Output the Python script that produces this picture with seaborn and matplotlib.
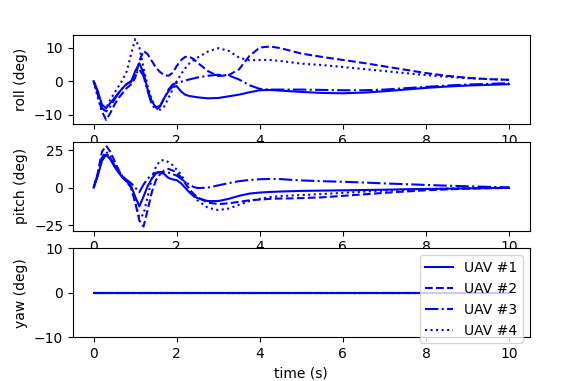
import numpy as np
import seaborn as sns
import matplotlib
matplotlib.use('Agg')
import matplotlib.pyplot as plt

# time grid (s)
t = [0.0, 0.1, 0.2, 0.3, 0.4, 0.5, 0.6, 0.7, 0.8, 0.9, 1.0, 1.1, 1.2, 1.3, 1.4,
     1.5, 1.6, 1.7, 1.8, 1.9, 2.0, 2.1, 2.2, 2.3, 2.4, 2.5, 2.75, 3.0, 3.25, 3.5,
     3.75, 4.0, 4.25, 4.5, 4.75, 5.0, 5.5, 6.0, 6.5, 7.0, 7.5, 8.0, 8.5, 9.0, 9.5, 10.0]

# roll (deg)
roll_uav1 = [0, -3, -7, -8, -6.5, -5, -3.5, -2, -0.8, -0.3, 3, 5.3, 2.5, -2.5, -6,
             -7.8, -7.3, -5, -3, -1.6, -1.5, -3, -4, -4.4, -4.6, -4.8, -5.1, -5, -4.5, -4,
             -3.3, -2.7, -2.6, -2.8, -3, -3.2, -3.5, -3.6, -3.4, -3, -2.5, -2, -1.6, -1.3, -1.1, -0.9]
roll_uav2 = [0, -4, -9, -11.5, -9.5, -7, -5, -3.5, -2, -1, 1, 6, 9, 8, 6,
             4, 2.7, 1.8, 1.6, 2.5, 4.5, 6.2, 7.2, 7.3, 6.6, 5.5, 3, 1.5, 1.8, 3.5,
             7.5, 10, 10.3, 9.8, 9, 8.2, 7.2, 6.3, 5.4, 4.4, 3.4, 2.4, 1.6, 1, 0.6, 0.4]
roll_uav3 = [0, -3.5, -8, -9, -7.5, -5.5, -3.5, -2, -0.8, 0, 2, 3.5, 1.5, -3, -7,
             -8.5, -7.5, -5, -2.5, -1, -0.5, -0.2, 0.2, 0.5, 0.8, 1.1, 1.6, 1.9, 1.7, 0.5,
             -1.2, -2.3, -2.5, -2.5, -2.5, -2.5, -2.6, -2.7, -2.7, -2.5, -2.1, -1.7, -1.3, -1, -0.8, -0.6]
roll_uav4 = [0, -5, -9, -8, -5.5, -3.5, -1.5, 0.5, 3, 8, 12.5, 10, 4, -1.5, -5.5,
             -7.8, -8.5, -7.5, -5, -2.5, 0, 2, 3.8, 5.2, 6.2, 7, 8.8, 9.8, 9, 7,
             6.2, 6.3, 6.3, 6, 5.6, 5.2, 4.8, 4.2, 3.6, 3, 2.4, 1.8, 1.3, 0.9, 0.6, 0.4]

# pitch (deg)
pitch_uav1 = [0, 8, 18, 22, 19, 14, 10, 6.5, 4, 1, -6, -12.5, -6, 1, 6,
              9.5, 10.5, 9, 6.5, 5.5, 5, 3, 0, -3, -5.5, -7, -9, -9, -7.5, -5.5,
              -4, -3.3, -2.9, -2.6, -2.4, -2.2, -2, -1.8, -1.6, -1.4, -1.1, -0.9, -0.7, -0.5, -0.3, -0.2]
pitch_uav2 = [0, 10, 24, 28, 24, 18, 12, 7, 4, 0, -10, -22, -26, -15, -3,
              5, 9, 11.5, 12.5, 11.5, 10, 7, 3, -1, -4, -6.5, -10, -11, -10.5, -9.5,
              -8.5, -8, -7.5, -7.3, -7.2, -7, -6.5, -5.5, -4.5, -3.5, -2.6, -1.8, -1.2, -0.7, -0.4, -0.2]
pitch_uav3 = [0, 9, 20, 23, 20, 15, 11, 7.5, 5, 3, 0, -3, 2, 6, 8.5,
              10, 10.5, 10, 10, 9, 8, 6, 4, 2, 0.5, -0.3, 0, 1.5, 3, 4.3,
              5.1, 5.6, 5.8, 5.7, 5.2, 4.8, 4.3, 3.9, 3.4, 2.8, 2.3, 1.8, 1.3, 0.9, 0.5, 0.2]
pitch_uav4 = [0, 9, 20, 24, 21, 16, 11, 7, 4, 0, -10, -20, -18, -6, 6,
              14, 18, 18.5, 17, 15, 12, 9, 4, -1, -5, -8.5, -13.5, -15, -14, -11.5,
              -9, -7.5, -6.3, -5.7, -5.3, -5, -4.3, -3.5, -2.7, -2, -1.5, -1, -0.7, -0.4, -0.2, -0.1]

# yaw (deg)
yaw_all = [0.0] * len(t)

labels = ['UAV #1', 'UAV #2', 'UAV #3', 'UAV #4']
styles = ['-', '--', '-.', ':']

roll = [roll_uav1, roll_uav2, roll_uav3, roll_uav4]
pitch = [pitch_uav1, pitch_uav2, pitch_uav3, pitch_uav4]

fig, axes = plt.subplots(3, 1, figsize=(5.74, 3.81), dpi=100)
plt.subplots_adjust(left=0.127, right=0.923, top=0.908, bottom=0.115, hspace=0.2)

for i in range(4):
    sns.lineplot(x=t, y=roll[i], ax=axes[0], color='blue', linestyle=styles[i], linewidth=1.5)
    sns.lineplot(x=t, y=pitch[i], ax=axes[1], color='blue', linestyle=styles[i], linewidth=1.5)
    sns.lineplot(x=t, y=yaw_all, ax=axes[2], color='blue', linestyle=styles[i], linewidth=1.5, label=labels[i])

axes[0].set_ylabel('roll (deg)')
axes[1].set_ylabel('pitch (deg)')
axes[2].set_ylabel('yaw (deg)')
axes[2].set_xlabel('time (s)')
axes[2].set_ylim(-10, 10)
axes[0].set_yticks([-10, 0, 10])
axes[1].set_yticks([-25, 0, 25])
axes[2].set_yticks([-10, 0, 10])
for ax in axes:
    ax.set_xticks([0, 2, 4, 6, 8, 10])
axes[2].legend(loc='upper right')

plt.savefig('out.png', dpi=100)
